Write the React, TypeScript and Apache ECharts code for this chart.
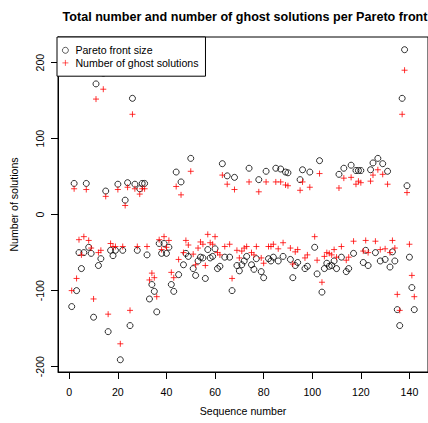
import React, { useEffect, useRef } from 'react';
import * as echarts from 'echarts';

// Sequence numbers (x values)
const seqNumbers = [
  1, 2, 3, 4, 5, 6, 7, 8, 9, 10, 11, 12, 13, 14, 15, 16, 17, 18, 19, 20,
  21, 22, 23, 24, 25, 26, 27, 28, 29, 30, 31, 32, 33, 34, 35, 36, 37, 38, 39, 40,
  41, 42, 43, 44, 45, 46, 47, 48, 49, 50, 51, 52, 53, 54, 55, 56, 57, 58, 59, 60,
  61, 62, 63, 64, 65, 66, 67, 68, 69, 70, 71, 72, 73, 74, 75, 76, 77, 78, 79, 80,
  81, 82, 83, 84, 85, 86, 87, 88, 89, 90, 91, 92, 93, 94, 95, 96, 97, 98, 99,
  101, 102, 103, 104, 105, 106, 107, 108, 109, 110, 111, 112, 113, 114, 115, 116, 117, 118, 119, 120,
  121, 122, 123, 124, 125, 126, 127, 128, 129, 130, 131, 132, 133, 134, 135, 136, 137, 138, 139, 140,
  141, 142,
];

// Pareto front size (circles)
const paretoFrontSize = [
  -121, 41, -100, -50, -71, -50, 41, -43, -51, -135, 172, -67, -58, 186, 31, -154, -47, -54, -47, 40,
  -191, -47, 19, 42, -146, 153, 40, -47, 34, 41, 41, -53, -111, -92, -101, -128, -38, -51, -38, -51,
  -43, -92, -101, 56, -79, 43, -66, -51, -55, 74, -71, -80, -61, -56, -57, -84, -46, -57, -55, -45,
  -71, -68, 67, -56, 51, -56, -100, 49, -67, -74, -66, -61, -55, 61, -66, -72, -58, 46, -75, -83,
  57, -58, -61, -56, 61, -61, 60, -55, 56, 55, -59, -83, -67, -63, 46, 59, -71, -68, 56,
  -43, -78, 71, -102, -71, -64, -68, -67, -61, -71, 53, -56, 61, -75, -71, 65, -51, 58, 58, 58,
  -63, -47, -67, 59, 68, -50, 74, -61, 67, -59, 57, -69, -49, -61, -125, -146, 153, 217, 38, -56,
  -96, -125,
];

// Number of ghost solutions (plus signs)
const ghostSolutions = [
  -100, 34, -84, -33, -53, -29, 33, -34, -44, -111, 152, -50, -47, 165, 24, -131, -38, -42, -42, 33,
  -170, -42, 12, 36, -126, 132, 34, -42, 27, 34, 34, -42, -86, -77, -83, -108, -33, -46, -29, -43,
  -34, -76, -83, 37, -59, 26, -50, -34, -40, 57, -52, -66, -44, -36, -39, -67, -26, -37, -39, -29,
  -50, -53, 52, -42, 40, -39, -84, 33, -47, -57, -48, -44, -42, 43, -50, -53, -42, 30, -57, -64,
  43, -42, -42, -39, 43, -45, 43, -37, 39, 38, -44, -65, -49, -46, 32, 43, -57, -53, 36,
  -29, -60, 54, -89, -55, -50, -51, -53, -46, -56, 35, -42, 48, -60, -56, 49, -35, 40, 44, 42,
  -48, -34, -50, 44, 52, -35, 59, -46, 53, -45, 40, -50, -34, -44, -105, -126, 132, 190, 29, -39,
  -80, -108,
];

const xTickValues = [0, 20, 40, 60, 80, 100, 120, 140];
const yTickValues = [-200, -100, 0, 100, 200];

const FONT = '"Liberation Sans", Arial, Helvetica, sans-serif';

export default function App() {
  const ref = useRef<HTMLDivElement>(null);

  useEffect(() => {
    if (!ref.current) return;
    const chart = echarts.init(ref.current, null, { renderer: 'svg' });

    const paretoData = seqNumbers.map((s, i) => [s, paretoFrontSize[i]]);
    const ghostData = seqNumbers.map((s, i) => [s, ghostSolutions[i]]);

    chart.setOption({
      animation: false,
      backgroundColor: '#ffffff',
      textStyle: { fontFamily: FONT },
      title: {
        text: 'Total number and number of ghost solutions per Pareto front',
        left: 240,
        top: 5,
        textAlign: 'center',
        textStyle: { fontFamily: FONT, fontSize: 12.6, fontWeight: 'bold', color: '#000' },
      },
      legend: {
        left: 57,
        top: 37,
        orient: 'vertical',
        padding: [7, 7, 7, 5],
        itemGap: 0,
        itemWidth: 10,
        itemHeight: 6,
        borderColor: '#000',
        borderWidth: 1,
        borderRadius: 0,
        backgroundColor: '#fff',
        selectedMode: false,
        itemStyle: { borderWidth: 0.8 },
        textStyle: { fontFamily: FONT, fontSize: 10.6, color: '#000', lineHeight: 12.6 },
        data: ['Pareto front size', 'Number of ghost solutions'],
      },
      grid: {
        left: 57,
        top: 37,
        width: 374,
        height: 335,
        show: true,
        borderColor: '#000',
        borderWidth: 1,
        backgroundColor: 'transparent',
      },
      xAxis: {
        type: 'value',
        min: -4.64,
        max: 147.64,
        name: 'Sequence number',
        nameLocation: 'middle',
        nameGap: 33,
        nameTextStyle: { fontFamily: FONT, fontSize: 10.6, color: '#000' },
        axisLine: { show: true, onZero: false, lineStyle: { color: '#000', width: 1 } },
        axisTick: {
          show: true,
          length: 7,
          inside: false,
          customValues: xTickValues,
          lineStyle: { color: '#000', width: 1 },
        },
        axisLabel: {
          customValues: xTickValues,
          margin: 14,
          fontFamily: FONT,
          fontSize: 10.6,
          color: '#000',
        },
        splitLine: { show: false },
      },
      yAxis: {
        type: 'value',
        min: -207.1,
        max: 233.7,
        name: 'Number of solutions',
        nameLocation: 'middle',
        nameGap: 39,
        nameRotate: 90,
        nameTextStyle: { fontFamily: FONT, fontSize: 10.6, color: '#000' },
        axisLine: { show: true, onZero: false, lineStyle: { color: '#000', width: 1 } },
        axisTick: {
          show: true,
          length: 7,
          inside: false,
          customValues: yTickValues,
          lineStyle: { color: '#000', width: 1 },
        },
        axisLabel: {
          customValues: yTickValues,
          rotate: 90,
          margin: 13,
          fontFamily: FONT,
          fontSize: 10.6,
          color: '#000',
        },
        splitLine: { show: false },
      },
      series: [
        {
          name: 'Pareto front size',
          type: 'scatter',
          data: paretoData,
          symbol: 'circle',
          symbolSize: 6,
          itemStyle: { color: 'rgba(0,0,0,0)', borderColor: '#000', borderWidth: 1 },
          emphasis: { disabled: true },
        },
        {
          name: 'Number of ghost solutions',
          type: 'scatter',
          data: ghostData,
          symbol: 'path://M0,5L10,5M5,0L5,10',
          symbolSize: 6,
          itemStyle: { color: 'rgba(0,0,0,0)', borderColor: '#ff0000', borderWidth: 1 },
          emphasis: { disabled: true },
        },
      ],
    });

    return () => chart.dispose();
  }, []);

  return (
    <div
      ref={ref}
      style={{ position: 'fixed', left: 0, top: 0, width: 428, height: 423, background: '#fff' }}
    />
  );
}
